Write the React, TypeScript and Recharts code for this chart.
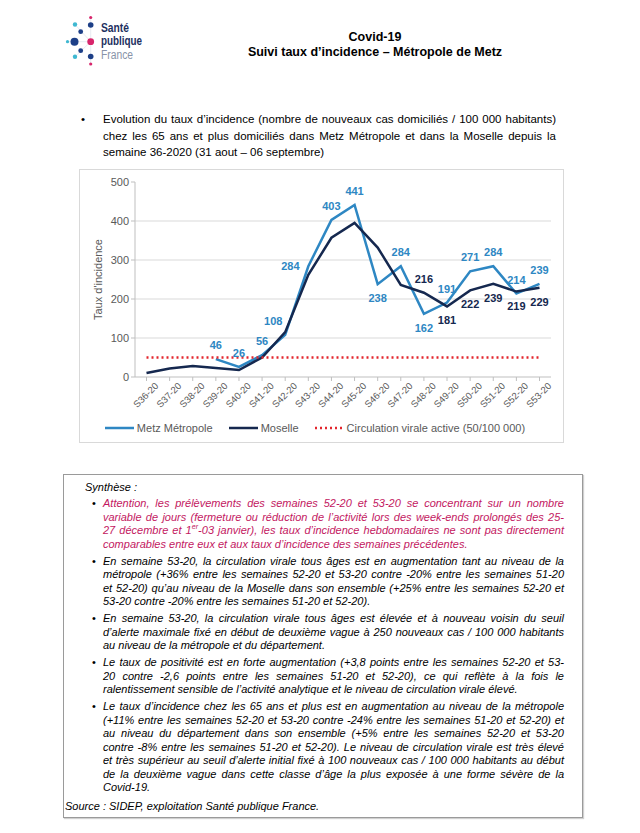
import React from "react";
import {
  CartesianGrid,
  LabelList,
  Legend,
  Line,
  LineChart,
  XAxis,
  YAxis,
} from "recharts";

const weeks = [
  "S36-20", "S37-20", "S38-20", "S39-20", "S40-20", "S41-20", "S42-20", "S43-20", "S44-20",
  "S45-20", "S46-20", "S47-20", "S48-20", "S49-20", "S50-20", "S51-20", "S52-20", "S53-20",
];
const metz = [null, null, null, 46, 26, 56, 108, 284, 403, 441, 238, 284, 162, 191, 271, 284, 214, 239];
const moselle = [10, 22, 28, 23, 18, 50, 115, 262, 357, 395, 332, 236, 216, 181, 222, 239, 219, 229];
const seuil = [50, 50, 50, 50, 50, 50, 50, 50, 50, 50, 50, 50, 50, 50, 50, 50, 50, 50];
const yTicks = [0, 100, 200, 300, 400, 500];
const seriesNames = ["Metz Métropole", "Moselle", "Circulation virale active (50/100 000)"];

// where each value label sits relative to its point
const metzLabelPos = ["", "", "", "up", "up", "up", "upleft", "left", "up", "up", "down", "up", "down", "up", "up", "up", "up", "up"];
const moselleLabelPos = ["", "", "", "", "", "", "", "", "", "", "", "", "up", "down", "down", "down", "down", "down"];

const data = weeks.map((w, i) => ({ week: w, metz: metz[i], moselle: moselle[i], seuil: seuil[i] }));

const METZ = "#2e87c3";
const MOSELLE = "#15284f";
const RED = "#e3262d";
const GREY = "#595959";
const FONT = "'Liberation Sans', Arial, sans-serif";

const introLines = [
  "Evolution du taux d’incidence (nombre de nouveaux cas domiciliés / 100 000 habitants)",
  "chez les 65 ans et plus domiciliés dans Metz Métropole et dans la Moselle depuis la",
  "semaine 36-2020 (31 aout – 06 septembre)",
];

const bullets = [
  [
    "Attention, les prélèvements des semaines 52-20 et 53-20 se concentrant sur un nombre",
    "variable de jours (fermeture ou réduction de l’activité lors des week-ends prolongés des 25-",
    "27 décembre et 1^er-03 janvier), les taux d’incidence hebdomadaires ne sont pas directement",
    "comparables entre eux et aux taux d’incidence des semaines précédentes.",
  ],
  [
    "En semaine 53-20, la circulation virale tous âges est en augmentation tant au niveau de la",
    "métropole (+36% entre les semaines 52-20 et 53-20 contre -20% entre les semaines 51-20",
    "et 52-20) qu’au niveau de la Moselle dans son ensemble (+25% entre les semaines 52-20 et",
    "53-20 contre -20% entre les semaines 51-20 et 52-20).",
  ],
  [
    "En semaine 53-20, la circulation virale tous âges est élevée et à nouveau voisin du seuil",
    "d’alerte maximale fixé en début de deuxième vague à 250 nouveaux cas / 100 000 habitants",
    "au niveau de la métropole et du département.",
  ],
  [
    "Le taux de positivité est en forte augmentation (+3,8 points entre les semaines 52-20 et 53-",
    "20 contre -2,6 points entre les semaines 51-20 et 52-20), ce qui reflète à la fois le",
    "ralentissement sensible de l’activité analytique et le niveau de circulation virale élevé.",
  ],
  [
    "Le taux d’incidence chez les 65 ans et plus est en augmentation au niveau de la métropole",
    "(+11% entre les semaines 52-20 et 53-20 contre -24% entre les semaines 51-20 et 52-20) et",
    "au niveau du département dans son ensemble (+5% entre les semaines 52-20 et 53-20",
    "contre -8% entre les semaines 51-20 et 52-20). Le niveau de circulation virale est très élevé",
    "et très supérieur au seuil d’alerte initial fixé à 100 nouveaux cas / 100 000 habitants au début",
    "de la deuxième vague dans cette classe d’âge la plus exposée à une forme sévère de la",
    "Covid-19.",
  ],
];

function withSup(line: string) {
  const parts = line.split("^er");
  if (parts.length === 1) return line;
  return (
    <>
      {parts[0]}
      <sup style={{ fontSize: "0.65em", lineHeight: 0 }}>er</sup>
      {parts[1]}
    </>
  );
}

function Justified({ lines, lineHeight }: { lines: string[]; lineHeight: number }) {
  return (
    <>
      {lines.map((l, i) => (
        <div
          key={i}
          style={{
            height: lineHeight,
            lineHeight: lineHeight + "px",
            textAlign: "justify",
            textAlignLast: i === lines.length - 1 ? "left" : "justify",
          }}
        >
          {withSup(l)}
        </div>
      ))}
    </>
  );
}

function makeLabel(positions: string[], color: string) {
  return (props: any) => {
    const { x, y, value, index } = props;
    const pos = positions[index];
    if (value == null || !pos) return null;
    let dx = 0;
    let dy = 0;
    if (pos === "up") dy = -14;
    if (pos === "down") dy = 14;
    if (pos === "left") dx = -18;
    if (pos === "upleft") { dx = -12; dy = -14; }
    return (
      <text
        x={x + dx}
        y={y + dy}
        textAnchor="middle"
        dominantBaseline="central"
        fill={color}
        fontSize={11}
        fontWeight="bold"
        fontFamily={FONT}
      >
        {value}
      </text>
    );
  };
}

function WeekTick({ x, y, payload }: any) {
  const ax = x + 10;
  const ay = y + 1;
  return (
    <text
      x={ax}
      y={ay}
      transform={`rotate(-45, ${ax}, ${ay})`}
      textAnchor="end"
      dominantBaseline="central"
      fontSize={9.5}
      fill={GREY}
      fontFamily={FONT}
    >
      {payload.value}
    </text>
  );
}

function LegendContent({ payload }: any) {
  const items = [...(payload || [])].sort(
    (a: any, b: any) => seriesNames.indexOf(a.value) - seriesNames.indexOf(b.value)
  );
  return (
    <div style={{ display: "flex", justifyContent: "center", alignItems: "center", height: 22, fontSize: 11, color: GREY, fontFamily: FONT }}>
      {items.map((e: any, i: number) => (
        <div key={i} style={{ display: "flex", alignItems: "center", marginRight: i < 2 ? 16 : 0 }}>
          <svg width={29} height={6} style={{ marginRight: 3 }}>
            <line
              x1={0}
              y1={3}
              x2={29}
              y2={3}
              stroke={e.color}
              strokeWidth={2.5}
              strokeDasharray={e.payload?.strokeDasharray}
            />
          </svg>
          <span>{e.value}</span>
        </div>
      ))}
    </div>
  );
}

function Logo() {
  const dots = [
    { x: 90.7, y: 17.5, r: 1.6, c: "#d8256b" },
    { x: 75, y: 24.5, r: 2.2, c: "#3fb8d1" },
    { x: 90.7, y: 25, r: 2.8, c: "#1d3f87" },
    { x: 80.7, y: 31.7, r: 2.4, c: "#1d3f87" },
    { x: 67.5, y: 41.7, r: 1.6, c: "#3fb8d1" },
    { x: 74.5, y: 41.7, r: 4, c: "#1d3f87" },
    { x: 90.7, y: 41.7, r: 3.4, c: "#d8256b" },
    { x: 80.7, y: 50.7, r: 2.4, c: "#1d3f87" },
    { x: 75, y: 56.7, r: 2.2, c: "#3fb8d1" },
    { x: 90.7, y: 56.5, r: 2.8, c: "#1d3f87" },
    { x: 90.7, y: 64, r: 1.6, c: "#d8256b" },
  ];
  return (
    <svg style={{ position: "absolute", left: 0, top: 0 }} width={160} height={75}>
      <g stroke="#d9dde8" strokeWidth={0.6}>
        <line x1={90.7} y1={17.5} x2={90.7} y2={64} />
        <line x1={67.5} y1={41.7} x2={90.7} y2={41.7} />
        <line x1={75} y1={24.5} x2={90.7} y2={41.7} />
        <line x1={75} y1={56.7} x2={90.7} y2={41.7} />
      </g>
      {dots.map((d, i) => (
        <circle key={i} cx={d.x} cy={d.y} r={d.r} fill={d.c} />
      ))}
      <g fontFamily={FONT} fontSize={12}>
        <text x={101} y={32} fill="#1d3060" fontWeight="bold" textLength={28} lengthAdjust="spacingAndGlyphs">Santé</text>
        <text x={101} y={45} fill="#1d3060" fontWeight="bold" textLength={41} lengthAdjust="spacingAndGlyphs">publique</text>
        <text x={101} y={59} fill="#8893a8" textLength={32} lengthAdjust="spacingAndGlyphs">France</text>
      </g>
    </svg>
  );
}

export default function App() {
  return (
    <div
      style={{
        position: "absolute",
        left: 0,
        top: 0,
        width: 640,
        height: 833,
        background: "#ffffff",
        fontFamily: FONT,
        color: "#000",
        overflow: "hidden",
      }}
    >
      <Logo />
      <div style={{ position: "absolute", left: 175, width: 400, top: 30, textAlign: "center", fontWeight: "bold", fontSize: 12.5, lineHeight: "15px" }}>
        <div>Covid-19</div>
        <div>Suivi taux d’incidence – Métropole de Metz</div>
      </div>

      <div style={{ position: "absolute", left: 81, top: 111, fontSize: 11.5, lineHeight: "16px" }}>•</div>
      <div style={{ position: "absolute", left: 103, top: 111, width: 453, fontSize: 11.5 }}>
        <Justified lines={introLines} lineHeight={16.5} />
      </div>

      <div
        style={{
          position: "absolute",
          left: 79,
          top: 169,
          width: 485,
          height: 274,
          border: "1px solid #d9d9d9",
          boxSizing: "border-box",
        }}
      />
      <div style={{ position: "absolute", left: 79, top: 169 }}>
        <LineChart width={485} height={274} data={data} margin={{ top: 13, right: 13, left: 0, bottom: 4 }}>
          <CartesianGrid vertical={false} horizontalValues={[100, 200, 300, 400]} stroke="#d9d9d9" />
          <XAxis
            dataKey="week"
            interval={0}
            padding={{ left: 11.5, right: 11.5 }}
            height={40}
            tick={<WeekTick />}
            axisLine={{ stroke: "#bfbfbf" }}
            tickLine={{ stroke: "#bfbfbf" }}
            tickSize={4}
          />
          <YAxis
            width={56}
            domain={[0, 500]}
            ticks={yTicks}
            interval={0}
            tick={{ fontSize: 11, fill: GREY, fontFamily: FONT }}
            axisLine={{ stroke: "#bfbfbf" }}
            tickLine={{ stroke: "#bfbfbf" }}
            tickSize={4}
            label={{
              value: "Taux d'incidence",
              angle: -90,
              position: "insideLeft",
              dx: 14,
              style: { textAnchor: "middle", fontSize: 11, fill: GREY, fontFamily: FONT },
            }}
          />
          <Legend verticalAlign="bottom" content={<LegendContent />} />
          <Line
            dataKey="metz"
            name={seriesNames[0]}
            stroke={METZ}
            strokeWidth={2.5}
            dot={false}
            isAnimationActive={false}
          >
            <LabelList dataKey="metz" content={makeLabel(metzLabelPos, METZ)} />
          </Line>
          <Line
            dataKey="moselle"
            name={seriesNames[1]}
            stroke={MOSELLE}
            strokeWidth={2.5}
            dot={false}
            isAnimationActive={false}
          >
            <LabelList dataKey="moselle" content={makeLabel(moselleLabelPos, MOSELLE)} />
          </Line>
          <Line
            dataKey="seuil"
            name={seriesNames[2]}
            stroke={RED}
            strokeWidth={2.5}
            strokeDasharray="2 3"
            dot={false}
            isAnimationActive={false}
          />
        </LineChart>
      </div>

      <div
        style={{
          position: "absolute",
          left: 63,
          top: 474,
          width: 520,
          height: 344,
          border: "1px solid #9a9a9a",
          boxShadow: "1px 1px 1px #d0d0d0",
          boxSizing: "border-box",
          fontStyle: "italic",
          fontSize: 11,
        }}
      >
        <div style={{ position: "absolute", left: 21, top: 5, lineHeight: "15px" }}>Synthèse :</div>
        <div style={{ position: "absolute", left: 28, top: 22, width: 444 + 28 }}>
          {bullets.map((b, i) => (
            <div key={i} style={{ position: "relative", marginBottom: 3.5, color: i === 0 ? "#c3185f" : "#000" }}>
              <span style={{ position: "absolute", left: 0, top: 0, lineHeight: "13.5px", fontStyle: "normal", color: "#000" }}>•</span>
              <div style={{ marginLeft: 11 }}>
                <Justified lines={b} lineHeight={13.5} />
              </div>
            </div>
          ))}
        </div>
        <div style={{ position: "absolute", left: 1, bottom: 3, lineHeight: "15px" }}>
          Source : SIDEP, exploitation Santé publique France.
        </div>
      </div>
    </div>
  );
}
